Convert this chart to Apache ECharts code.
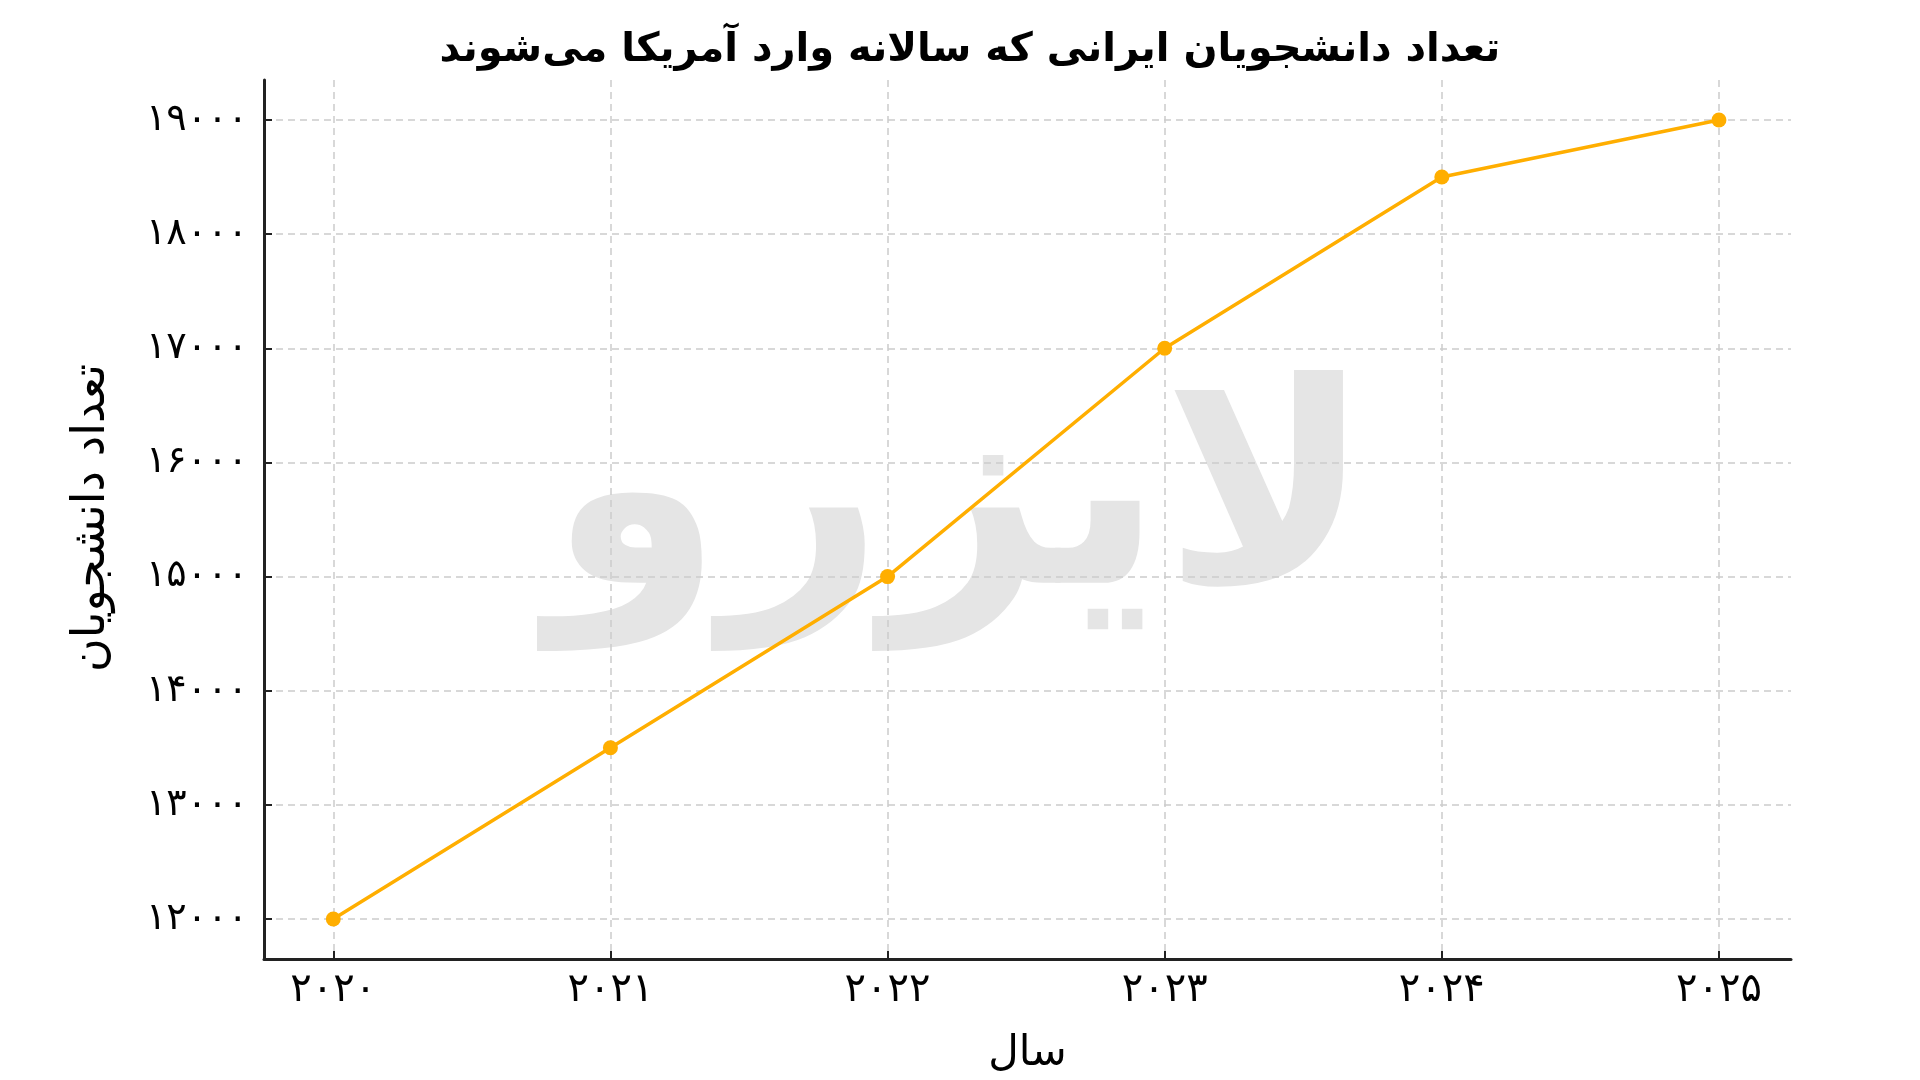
<!DOCTYPE html>
<html><head><meta charset="utf-8">
<script src="https://cdn.jsdelivr.net/npm/echarts@6/dist/echarts.min.js"></script>
<style>html,body{margin:0;background:#fff}#c{width:1920px;height:1080px}</style>
</head><body><div id="c"></div>
<script>
const years = [2020, 2021, 2022, 2023, 2024, 2025];
const students = [12000, 13500, 15000, 17000, 18500, 19000];
const yTicks = [12000, 13000, 14000, 15000, 16000, 17000, 18000, 19000];
const title = 'تعداد دانشجویان ایرانی که سالانه وارد آمریکا می‌شوند';
const xName = 'سال';
const yName = 'تعداد دانشجویان';
const watermark = 'لایزرو';
const fa = n => String(n).replace(/\d/g, d => '۰۱۲۳۴۵۶۷۸۹'[d]);
const F = '"DejaVu Sans", "Noto Sans", sans-serif';
const chart = echarts.init(document.getElementById('c'));
const split = {show: true, lineStyle: {color: '#ccc', type: [7, 5], width: 1.5}};
chart.setOption({
  backgroundColor: '#fff',
  animation: false,
  title: {text: title, left: 965, top: 26, textAlign: 'center',
    textStyle: {fontFamily: F, fontSize: 40, fontWeight: 'bold', color: '#000'}},
  graphic: [{type: 'text', left: 'center', top: 370, z: -1, silent: true,
    style: {text: watermark, fontFamily: F, fontSize: 280, fontWeight: 'bold', fill: '#e5e5e5'}},
    {type:'text', x: 92, y: 518, rotation: Math.PI/2,
    style:{text: yName, x: 0, y: 0, align: 'center', verticalAlign: 'middle', fontFamily: F, fontSize: 46, fill:'#000'}}],
  grid: {left: 264, right: 129, top: 80, bottom: 106},
  xAxis: {type: 'value', min: 2019.75, max: 2025.26,
    name: xName, nameLocation: 'middle', nameGap: 74,
    nameTextStyle: {fontFamily: F, fontSize: 42, color: '#000'},
    axisLine: {lineStyle: {color: '#222', width: 3}},
    axisTick: {show: true, inside: true, length: 8, customValues: years, lineStyle: {color: '#222', width: 2}},
    axisLabel: {fontFamily: F, fontSize: 40, color: '#000', margin: 12, customValues: years,
      formatter: v => fa(v)},
    splitLine: split},
  yAxis: {type: 'value', min: 11650, max: 19350,
    axisLine: {show: true, lineStyle: {color: '#222', width: 3}},
    axisTick: {show: true, inside: true, length: 8, customValues: yTicks, lineStyle: {color: '#222', width: 2}},
    axisLabel: {fontFamily: F, fontSize: 38, color: '#000', margin: 16, customValues: yTicks,
      formatter: v => fa(v)},
    splitLine: split},
  series: [{type: 'line', data: years.map((y, i) => [y, students[i]]),
    symbol: 'circle', symbolSize: 15,
    lineStyle: {color: '#FFAE00', width: 3.5},
    itemStyle: {color: '#FFAE00'}}]
});
</script></body></html>
